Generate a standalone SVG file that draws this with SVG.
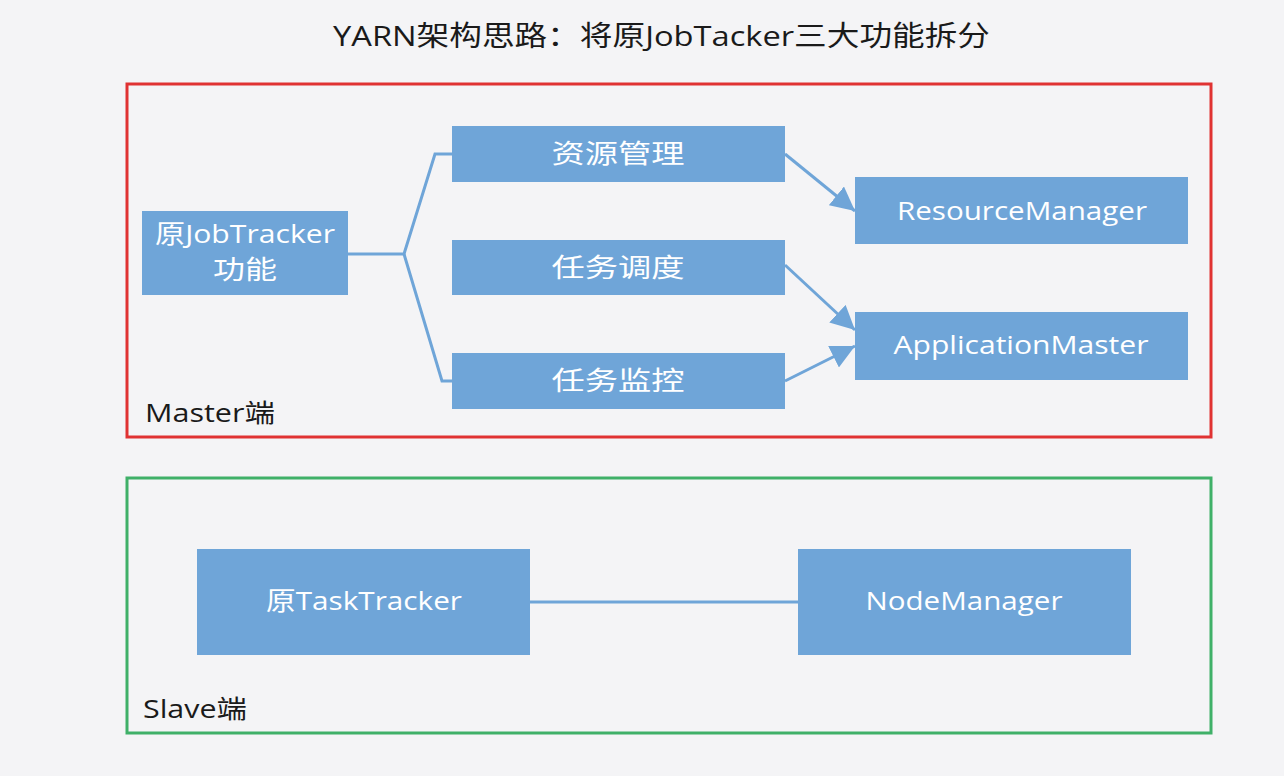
<svg xmlns="http://www.w3.org/2000/svg" width="1284" height="776" viewBox="0 0 1284 776">
<style>
.bg{fill:#f4f4f6}
.box{fill:#6fa5d8}
.bt{fill:#ffffff;font-family:"Open Sans","Noto Sans","Noto Sans CJK SC",sans-serif;font-size:26px;text-anchor:middle}
.lbl{fill:#1a1a1a;font-family:"Open Sans","Noto Sans","Noto Sans CJK SC",sans-serif;font-size:25px}
.title{fill:#1a1a1a;font-family:"Open Sans","Noto Sans","Noto Sans CJK SC",sans-serif;font-size:28px}
.ln{fill:none;stroke:#6fa5d8;stroke-width:3}
</style>
<defs>
<marker id="ah" viewBox="0 0 10 10" refX="10" refY="5" markerWidth="8" markerHeight="8" markerUnits="strokeWidth" orient="auto">
<path d="M0,0 L10,5 L0,10 z" fill="#6fa5d8"/>
</marker>
</defs>
<rect class="bg" x="0" y="0" width="1284" height="776"/>
<text class="title" x="333" y="46" textLength="657" lengthAdjust="spacingAndGlyphs">YARN架构思路：将原JobTacker三大功能拆分</text>
<g id="master">
<rect x="127" y="84" width="1084" height="353" fill="none" stroke="#e03232" stroke-width="3"/>
<text class="lbl" x="145" y="422" textLength="130" lengthAdjust="spacingAndGlyphs">Master端</text>
</g>
<g id="slave">
<rect x="127" y="478" width="1084" height="255" fill="none" stroke="#3fb068" stroke-width="3"/>
<text class="lbl" x="143" y="718" textLength="104" lengthAdjust="spacingAndGlyphs">Slave端</text>
</g>
<g id="connectors">
<path class="ln" d="M348,254 L404,254 L435,154 L452,154"/>
<path class="ln" d="M404,254 L442,381 L452,381"/>
<line class="ln" x1="785" y1="154" x2="855" y2="211" marker-end="url(#ah)"/>
<line class="ln" x1="785" y1="265" x2="855" y2="330" marker-end="url(#ah)"/>
<line class="ln" x1="785" y1="381" x2="855" y2="346" marker-end="url(#ah)"/>
<line class="ln" x1="530" y1="602" x2="798" y2="602"/>
</g>
<g id="jobtracker">
<rect class="box" x="142" y="211" width="206" height="84"/>
<text class="bt" x="245" y="243" textLength="180" lengthAdjust="spacingAndGlyphs">原JobTracker</text>
<text class="bt" x="245" y="279" textLength="64" lengthAdjust="spacingAndGlyphs">功能</text>
</g>
<g id="res">
<rect class="box" x="452" y="126" width="333" height="56"/>
<text class="bt" x="618" y="163" textLength="133" lengthAdjust="spacingAndGlyphs">资源管理</text>
</g>
<g id="sched">
<rect class="box" x="452" y="240" width="333" height="55"/>
<text class="bt" x="618" y="277" textLength="133" lengthAdjust="spacingAndGlyphs">任务调度</text>
</g>
<g id="mon">
<rect class="box" x="452" y="353" width="333" height="56"/>
<text class="bt" x="618" y="390" textLength="133" lengthAdjust="spacingAndGlyphs">任务监控</text>
</g>
<g id="rm">
<rect class="box" x="855" y="177" width="333" height="67"/>
<text class="bt" x="1022" y="220" textLength="250" lengthAdjust="spacingAndGlyphs">ResourceManager</text>
</g>
<g id="am">
<rect class="box" x="855" y="312" width="333" height="68"/>
<text class="bt" x="1021" y="354" textLength="255" lengthAdjust="spacingAndGlyphs">ApplicationMaster</text>
</g>
<g id="tt">
<rect class="box" x="197" y="549" width="333" height="106"/>
<text class="bt" x="364" y="610" textLength="196" lengthAdjust="spacingAndGlyphs">原TaskTracker</text>
</g>
<g id="nm">
<rect class="box" x="798" y="549" width="333" height="106"/>
<text class="bt" x="964" y="610" textLength="197" lengthAdjust="spacingAndGlyphs">NodeManager</text>
</g>
</svg>
